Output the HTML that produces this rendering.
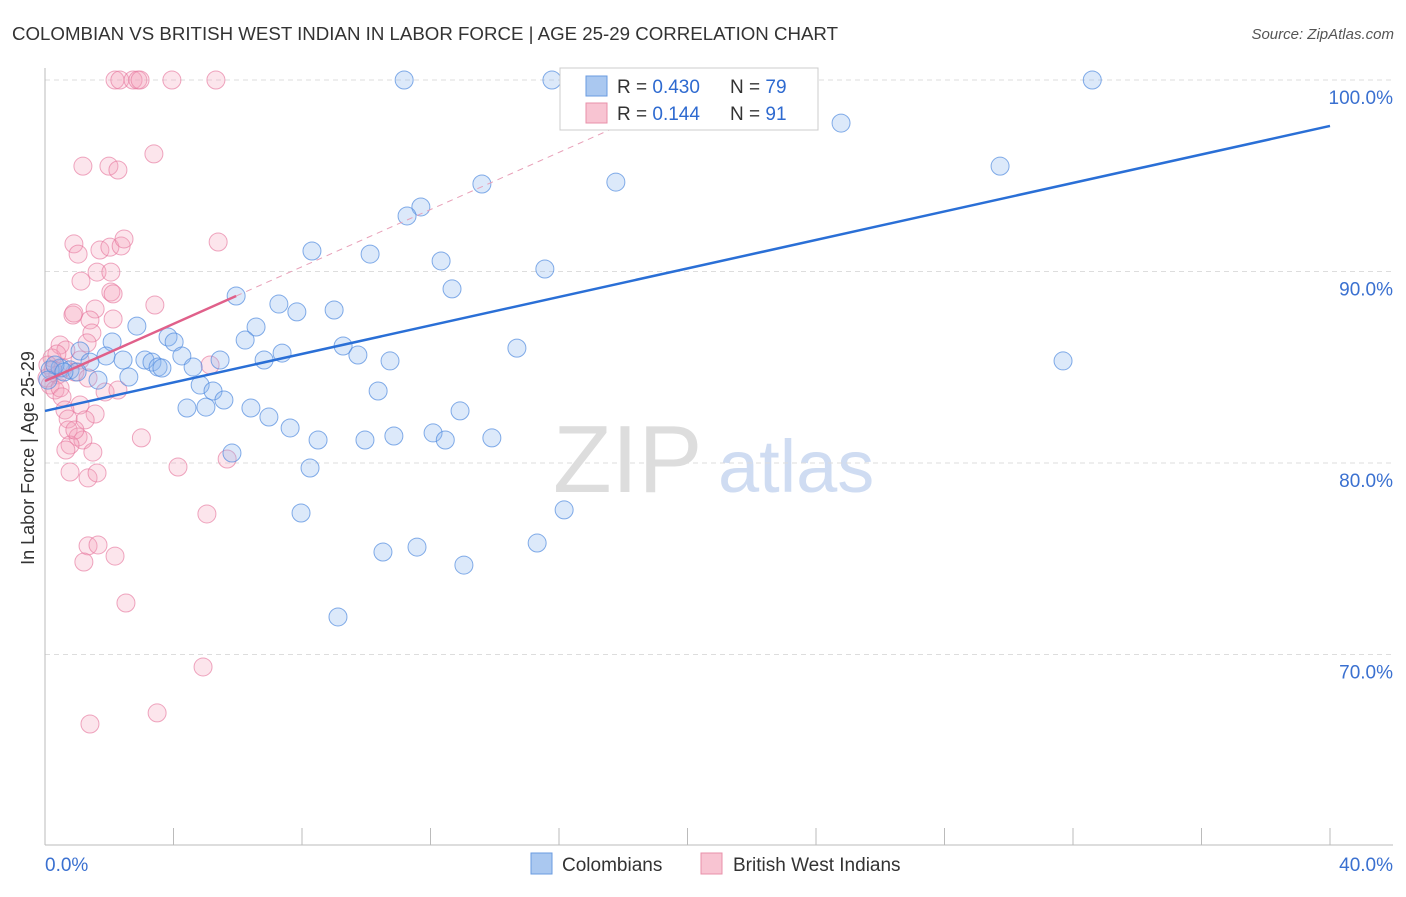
<!DOCTYPE html>
<html><head><meta charset="utf-8"><style>
body{margin:0;background:#fff;font-family:"Liberation Sans",sans-serif}
svg text{font-family:"Liberation Sans",sans-serif}
</style></head><body>
<svg id="chart" width="1406" height="892">
<text x="12" y="40" font-size="18" fill="#333" textLength="826" lengthAdjust="spacingAndGlyphs">COLOMBIAN VS BRITISH WEST INDIAN IN LABOR FORCE | AGE 25-29 CORRELATION CHART</text>
<text x="1394" y="39" font-size="15" fill="#555" font-style="italic" text-anchor="end">Source: ZipAtlas.com</text>
<g>
<text x="553" y="492" font-size="96" fill="#ddd" font-family="Liberation Serif,serif">ZIP</text>
<text x="718" y="492" font-size="74" fill="#cfdcf2">atlas</text>
</g>
<g id="grid"></g>
<g id="axes"></g>
<g id="pts"></g>
<g id="trends"></g>
<text x="34" y="458" font-size="18" fill="#333" text-anchor="middle" transform="rotate(-90 34 458)">In Labor Force | Age 25-29</text>
<g>
<rect x="560" y="68" width="258" height="62" fill="#fff" stroke="#ccc"/>
<rect x="586" y="76" width="21" height="20" fill="#aac8f0" stroke="#6a9be0"/>
<rect x="586" y="103" width="21" height="20" fill="#f8c4d2" stroke="#e890aa"/>
<text x="617" y="93" font-size="19" fill="#333">R = <tspan fill="#2e6ad0">0.430</tspan></text>
<text x="730" y="93" font-size="19" fill="#333">N = <tspan fill="#2e6ad0">79</tspan></text>
<text x="617" y="120" font-size="19" fill="#333">R =  <tspan fill="#2e6ad0">0.144</tspan></text>
<text x="730" y="120" font-size="19" fill="#333">N =  <tspan fill="#2e6ad0">91</tspan></text>
</g>
<g>
<rect x="531" y="853" width="21" height="21" fill="#aac8f0" stroke="#6a9be0"/>
<text x="562" y="871" font-size="19" fill="#333">Colombians</text>
<rect x="701" y="853" width="21" height="21" fill="#f8c4d2" stroke="#e890aa"/>
<text x="733" y="871" font-size="19" fill="#333">British West Indians</text>
</g>
</svg>
<script>
const yTicks=[100,90,80,70];
const yTickLabels=["100.0%","90.0%","80.0%","70.0%"];
const xTickLabels=["0.0%","40.0%"];
const blueX=[11.18,15.78,22.5,32.6,24.78,29.73,17.77,13.6,11.7,11.27,8.31,10.12,12.33,15.56,12.67,5.95,7.28,7.84,9.0,2.86,6.57,3.83,4.02,6.23,2.09,9.28,9.74,7.38,14.69,1.09,1.9,2.43,3.11,3.33,4.26,5.45,6.82,10.74,31.69,1.4,3.52,3.64,4.61,0.47,0.78,1.0,2.61,1.65,4.83,5.23,10.37,5.57,4.42,5.01,6.41,6.97,12.92,7.63,12.08,10.86,12.46,8.5,9.96,13.91,5.82,8.25,16.16,7.97,15.32,11.58,10.52,13.04,9.12,0.16,0.31,0.59,0.09];
const blueY=[100,100,100,100,97.75,95.5,94.67,94.57,93.37,92.9,91.07,90.91,90.55,90.13,89.09,88.72,88.3,87.89,87.99,87.15,87.1,86.58,86.32,86.42,86.32,86.11,85.64,85.74,86.0,85.85,85.59,85.38,85.38,85.27,85.59,85.38,85.38,85.33,85.33,85.27,85.01,84.96,85.01,84.96,84.86,84.75,84.49,84.33,84.07,83.76,83.76,83.29,82.87,82.92,82.87,82.4,82.72,81.83,81.57,81.41,81.2,81.2,81.2,81.31,80.52,79.74,77.55,77.39,75.82,75.61,75.35,74.67,71.96,84.86,85.12,84.75,84.33];
const pinkX=[2.18,2.33,2.74,2.89,2.96,3.95,5.32,1.18,1.99,2.27,3.39,0.9,1.03,1.71,2.02,2.37,2.46,5.39,1.12,1.62,2.05,2.05,2.12,3.42,1.56,0.87,0.9,1.4,2.12,1.46,1.31,0.47,0.65,0.22,0.37,1.09,5.14,0.09,0.25,0.4,0.56,0.06,0.16,0.31,0.47,0.93,1.34,0.53,1.87,2.27,1.09,0.62,1.56,0.72,0.72,1.03,1.18,0.78,0.65,1.49,3.0,0.78,1.34,1.62,4.14,5.67,5.04,1.34,1.65,2.18,1.21,2.52,4.92,1.4,3.49,1.25,0.93];
const pinkY=[100,100,100,100,100,100,100,95.5,95.5,95.3,96.14,91.44,90.91,91.12,91.27,91.33,91.7,91.54,89.5,89.97,89.97,88.93,88.83,88.25,88.04,87.73,87.83,87.47,87.52,86.79,86.27,86.16,85.9,85.48,85.69,85.38,85.12,85.12,84.86,84.6,84.96,84.44,84.07,83.81,83.92,84.75,84.44,83.45,83.71,83.81,83.03,82.77,82.56,82.3,81.72,81.36,81.2,80.94,80.68,80.57,81.31,79.53,79.22,79.48,79.79,80.21,77.34,75.67,75.72,75.14,74.83,72.69,69.35,66.37,66.95,82.25,81.72];
const blueTrend=[82.72,97.6];
const pinkTrend=[84.28,88.72];
const NS="http://www.w3.org/2000/svg";
const X0=45,X1=1330,Y100=80,PER=19.15;
function sx(v){return X0+(v/40)*(X1-X0);}
function sy(v){return Y100+(100-v)*PER;}
function mk(t,a,p){const e=document.createElementNS(NS,t);for(const k in a)e.setAttribute(k,a[k]);p.appendChild(e);return e;}
const grid=document.getElementById('grid'),axes=document.getElementById('axes');
yTicks.forEach((v,i)=>{
 const l=mk('line',{x1:45,x2:1393,y1:sy(v),y2:sy(v),stroke:'#ddd','stroke-dasharray':'5,4'},grid);
 
 
 const t=mk('text',{x:1393,y:sy(v)+24,'font-size':19,fill:'#3a70d0','text-anchor':'end'},axes);
 t.textContent=yTickLabels[i];
 
 
});
let ax=mk('line',{x1:45,x2:45,y1:68,y2:845,stroke:'#bbb'},axes);


ax=mk('line',{x1:45,x2:1393,y1:845,y2:845,stroke:'#bbb'},axes);


for(let k=0;k<=10;k++){const x=sx(k*4);
 const tk=mk('line',{x1:x,x2:x,y1:828,y2:845,stroke:'#bbb'},axes);
 
 }
[[0,'start',45],[40,'end',1393]].forEach((d,i)=>{
 const t=mk('text',{x:d[2],y:871,'font-size':19,fill:'#3a70d0','text-anchor':d[1]},axes);
 t.textContent=xTickLabels[i];
 
 });
const pts=document.getElementById('pts');
pinkX.forEach((x,i)=>{const c=mk('circle',{cx:sx(x),cy:sy(pinkY[i]),r:9,fill:'rgba(244,160,188,0.28)',stroke:'rgba(230,120,158,0.65)','stroke-width':1},pts);
 
 });
blueX.forEach((x,i)=>{const c=mk('circle',{cx:sx(x),cy:sy(blueY[i]),r:9,fill:'rgba(140,182,238,0.3)',stroke:'rgba(80,138,222,0.7)','stroke-width':1},pts);
 
 });
const tr=document.getElementById('trends');
let l=mk('line',{x1:sx(0),y1:sy(blueTrend[0]),x2:sx(40),y2:sy(blueTrend[1]),stroke:'#2a6fd6','stroke-width':2.5},tr);


const slope=(pinkTrend[1]-pinkTrend[0])/5.95;
const xEnd=(100-pinkTrend[0])/slope;
l=mk('line',{x1:sx(5.95),y1:sy(pinkTrend[1]),x2:sx(xEnd),y2:sy(100),stroke:'#e8a0b8','stroke-width':1,'stroke-dasharray':'6,5'},tr);


l=mk('line',{x1:sx(0),y1:sy(pinkTrend[0]),x2:sx(5.95),y2:sy(pinkTrend[1]),stroke:'#e0608a','stroke-width':2.5},tr);


</script>
</body></html>
